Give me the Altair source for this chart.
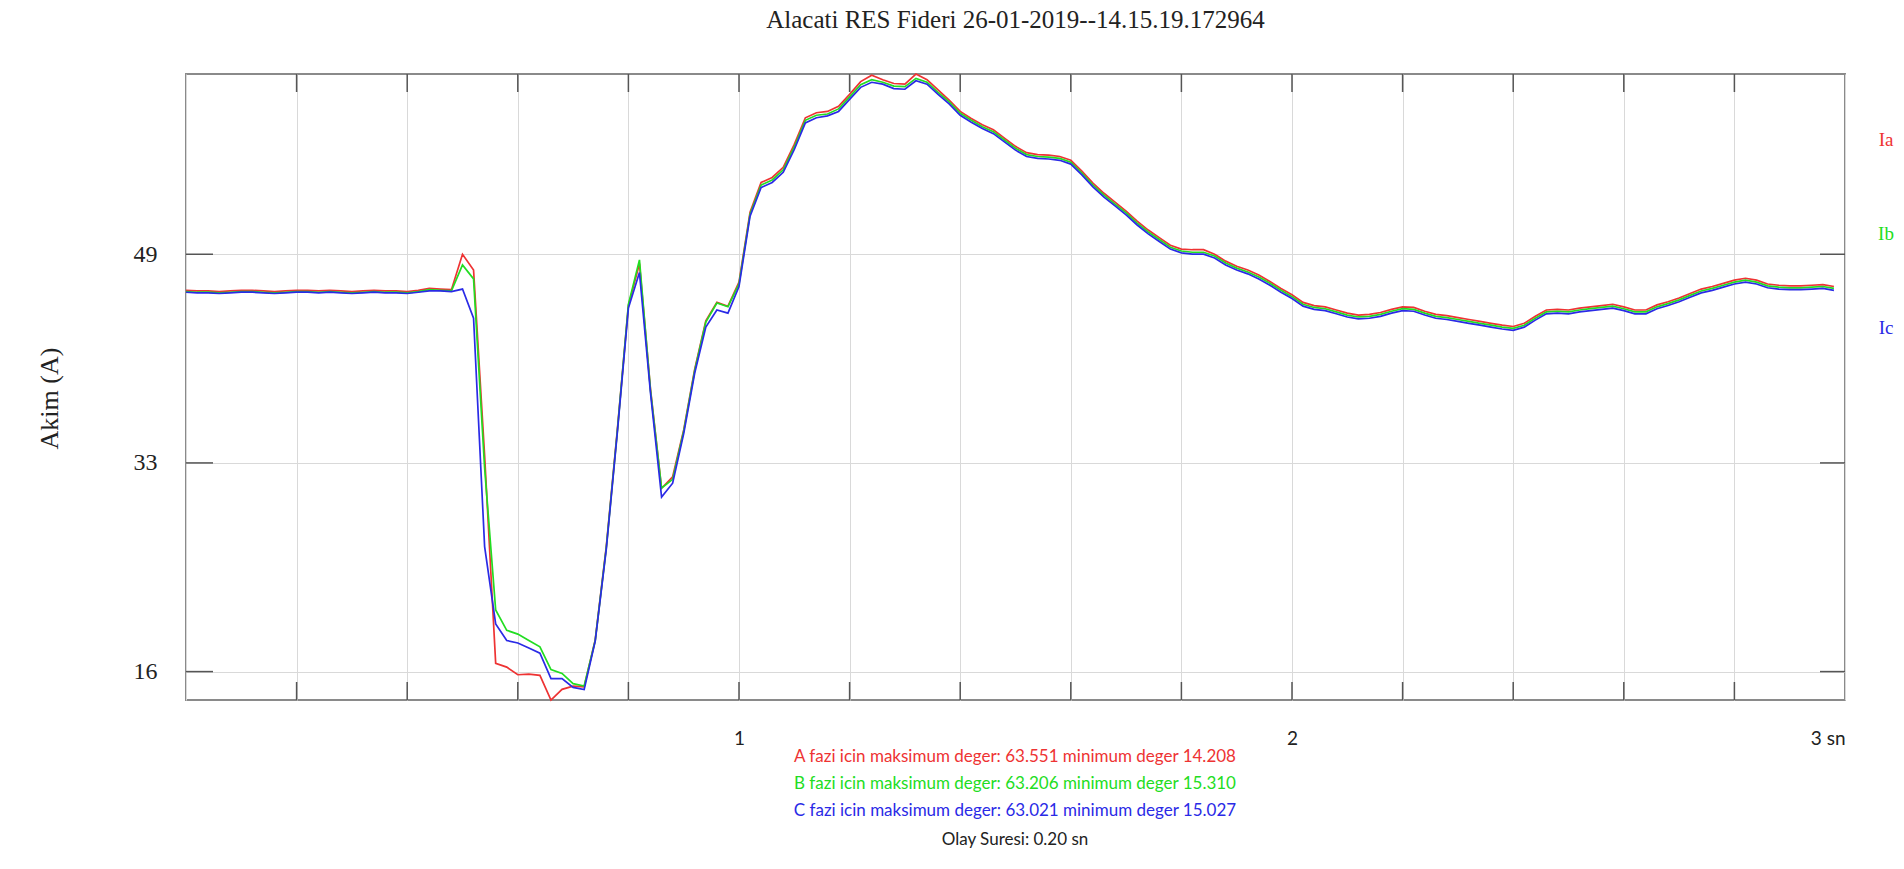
import altair as alt
import pandas as pd

# ---------------- data ----------------
TIME = [round(0.02 * i, 2) for i in range(150)]  # sample grid, 20 ms per RMS sample

IA = [46.5, 46.45, 46.45, 46.4, 46.45, 46.5, 46.5, 46.45, 46.4, 46.45, 46.5, 46.5, 46.45, 46.5, 46.45,
      46.4, 46.45, 46.5, 46.45, 46.45, 46.4, 46.5, 46.65, 46.6, 46.55,
      49.34, 48.1, 33.5, 17.1, 16.8, 16.2, 16.25, 16.15, 14.208, 15.05, 15.3, 15.25, 18.95, 26.3, 35.5,
      45.3, 48.6, 38.7, 30.9, 31.8, 35.5, 40.3, 44.1, 45.55, 45.25,
      47.15, 52.65, 55.0, 55.4, 56.2, 58.0, 60.1, 60.5, 60.6, 61.0,
      61.95, 62.95, 63.45, 63.1, 62.8, 62.75, 63.551, 63.1, 62.3, 61.5,
      60.6, 60.05, 59.55, 59.15, 58.5, 57.85, 57.35, 57.2, 57.15, 57.05,
      56.75, 55.9, 54.95, 54.15, 53.45, 52.75, 51.95, 51.25, 50.65, 50.05,
      49.75, 49.7, 49.7, 49.35, 48.8, 48.4, 48.1, 47.7, 47.2, 46.65,
      46.15, 45.55, 45.3, 45.2, 44.95, 44.7, 44.55, 44.6, 44.75, 45.0,
      45.2, 45.15, 44.85, 44.6, 44.5, 44.35, 44.2, 44.05, 43.9, 43.75,
      43.65, 43.9, 44.45, 44.95, 45.0, 44.95, 45.1, 45.2, 45.3, 45.4,
      45.2, 44.95, 44.95, 45.35, 45.6, 45.9, 46.25, 46.6, 46.8, 47.05,
      47.3, 47.45, 47.3, 47.0, 46.9, 46.85, 46.85, 46.9, 46.95, 46.8]

IB = [46.4, 46.35, 46.35, 46.3, 46.35, 46.4, 46.4, 46.35, 46.3, 46.35, 46.4, 46.4, 46.35, 46.4, 46.35,
      46.3, 46.35, 46.4, 46.35, 46.35, 46.3, 46.4, 46.55, 46.5, 46.45,
      48.5, 47.4, 32.5, 21.3, 19.7, 19.4, 18.9, 18.4, 16.6, 16.3, 15.5, 15.31, 18.9, 26.2, 35.4,
      45.4, 48.9, 38.6, 30.9, 31.6, 35.4, 40.2, 44.0, 45.5, 45.2,
      47.0, 52.5, 54.8, 55.2, 56.0, 57.8, 59.9, 60.3, 60.4, 60.8,
      61.75, 62.7, 63.1, 62.9, 62.6, 62.55, 63.206, 62.9, 62.1, 61.35,
      60.45, 59.9, 59.4, 59.0, 58.35, 57.7, 57.2, 57.05, 57.0, 56.9,
      56.6, 55.75, 54.8, 54.0, 53.3, 52.6, 51.8, 51.1, 50.5, 49.9,
      49.6, 49.5, 49.5, 49.2, 48.65, 48.25, 47.95, 47.55, 47.05, 46.5,
      46.0, 45.4, 45.15, 45.05, 44.8, 44.55, 44.4, 44.45, 44.6, 44.85,
      45.05, 45.0, 44.7, 44.45, 44.35, 44.2, 44.05, 43.9, 43.75, 43.6,
      43.5, 43.75, 44.3, 44.8, 44.85, 44.8, 44.95, 45.05, 45.15, 45.25,
      45.05, 44.8, 44.8, 45.2, 45.45, 45.75, 46.1, 46.45, 46.65, 46.9,
      47.15, 47.3, 47.15, 46.85, 46.75, 46.7, 46.7, 46.75, 46.8, 46.65]

IC = [46.35, 46.3, 46.3, 46.25, 46.3, 46.35, 46.35, 46.3, 46.25, 46.3, 46.35, 46.35, 46.3, 46.35, 46.3,
      46.25, 46.3, 46.35, 46.3, 46.3, 46.25, 46.35, 46.45, 46.45, 46.4,
      46.6, 44.3, 26.3, 20.2, 18.9, 18.7, 18.3, 17.9, 15.9, 15.9, 15.2, 15.027, 18.85, 26.1, 35.3,
      45.1, 47.9, 38.4, 30.2, 31.3, 35.2, 40.0, 43.6, 44.95, 44.7,
      46.8, 52.35, 54.6, 55.0, 55.8, 57.6, 59.7, 60.1, 60.25, 60.6,
      61.55, 62.5, 62.9, 62.75, 62.4, 62.35, 63.021, 62.75, 61.95, 61.2,
      60.3, 59.75, 59.25, 58.85, 58.2, 57.55, 57.05, 56.9, 56.85, 56.75,
      56.45, 55.6, 54.65, 53.85, 53.15, 52.45, 51.65, 50.95, 50.35, 49.75,
      49.45, 49.35, 49.35, 49.05, 48.5, 48.1, 47.8, 47.4, 46.9, 46.35,
      45.85, 45.25, 45.0, 44.9, 44.65, 44.4, 44.25, 44.3, 44.45, 44.7,
      44.9, 44.85, 44.55, 44.3, 44.2, 44.05, 43.9, 43.75, 43.6, 43.45,
      43.35, 43.6, 44.15, 44.65, 44.7, 44.65, 44.8, 44.9, 45.0, 45.1,
      44.9, 44.65, 44.65, 45.05, 45.3, 45.6, 45.95, 46.3, 46.5, 46.75,
      47.0, 47.15, 47.0, 46.7, 46.6, 46.55, 46.55, 46.6, 46.65, 46.5]

PHASES = ["Ia", "Ib", "Ic"]
PHASE_LETTERS = ["A", "B", "C"]
PHASE_COLORS = ["#ee3333", "#22dd22", "#2a2ae6"]

X_GRID = [0.0, 0.2, 0.4, 0.6, 0.8, 1.0, 1.2, 1.4, 1.6, 1.8, 2.0, 2.2, 2.4, 2.6, 2.8, 3.0]
X_INNER_TICKS = [0.2, 0.4, 0.6, 0.8, 1.0, 1.2, 1.4, 1.6, 1.8, 2.0, 2.2, 2.4, 2.6, 2.8]
Y_TICKS = [16.448, 32.896, 49.343]
EVENT_DURATION = "0.20"

TITLE = "Alacati RES Fideri 26-01-2019--14.15.19.172964"

# ---------------- layout ----------------
W, H = 1659, 626
ymin = min(IA + IB + IC)
ymax = max(IA + IB + IC)
x_scale = alt.Scale(domain=[0, 3], nice=False, zero=False)
y_scale = alt.Scale(domain=[ymin, ymax], nice=False, zero=False)

X_AXIS = alt.Axis(values=X_GRID, grid=True, gridColor="#d9d9d9", gridWidth=1,
                  domain=False, ticks=False, labelFlush=True,
                  labelExpr="datum.value == 1 ? '1' : datum.value == 2 ? '2' : datum.value == 3 ? '3 sn' : ''",
                  labelFont="Lato", labelFontSize=19, labelColor="#222222",
                  labelPadding=29, title=None)
Y_AXIS = alt.Axis(values=Y_TICKS, grid=True, gridColor="#d9d9d9", gridWidth=1,
                  domain=False, ticks=False,
                  labelExpr="format(datum.value, '.0f')",
                  labelFont="Liberation Serif", labelFontSize=24, labelColor="#222222",
                  labelPadding=29,
                  title="Akim (A)", titleFont="Liberation Serif", titleFontSize=26,
                  titleFontWeight="normal", titleColor="#222222",
                  titleX=-137, titleY=324, titleAlign="center", titleBaseline="middle",
                  titleAngle=270)

series = {"Ia": IA, "Ib": IB, "Ic": IC}

layers = []
for name, color in zip(PHASES, PHASE_COLORS):
    df = pd.DataFrame({"t": TIME, "v": series[name]})
    layers.append(
        alt.Chart(df).mark_line(color=color, strokeWidth=1.7).encode(
            x=alt.X("t:Q", scale=x_scale, axis=X_AXIS),
            y=alt.Y("v:Q", scale=y_scale, axis=Y_AXIS),
        )
    )

# inner tick marks on bottom and top frame
xt = pd.DataFrame({"t": X_INNER_TICKS})
for y0, y1 in [(H, H - 18), (0, 18)]:
    layers.append(
        alt.Chart(xt).mark_rule(color="#555555", strokeWidth=1.5).encode(
            x=alt.X("t:Q", scale=x_scale, axis=X_AXIS),
            y=alt.value(y0), y2=alt.value(y1),
        )
    )
# inner tick marks on left and right frame
yt = pd.DataFrame({"v": Y_TICKS})
for x0, x1 in [(0, 27), (W - 25, W)]:
    layers.append(
        alt.Chart(yt).mark_rule(color="#555555", strokeWidth=1.5).encode(
            y=alt.Y("v:Q", scale=y_scale, axis=Y_AXIS),
            x=alt.value(x0), x2=alt.value(x1),
        )
    )

# phase labels at right
for name, color, ypos in zip(PHASES, PHASE_COLORS, [66, 160, 254]):
    layers.append(
        alt.Chart(pd.DataFrame({"label": [name]})).mark_text(
            font="Liberation Serif", fontSize=19, color=color, align="center", baseline="middle"
        ).encode(text="label:N", x=alt.value(W + 41), y=alt.value(ypos))
    )

# statistics text below the plot
stat_lines = []
for letter, name, color in zip(PHASE_LETTERS, PHASES, PHASE_COLORS):
    vals = series[name]
    stat_lines.append((f"{letter} fazi icin maksimum deger: {max(vals):.3f} minimum deger {min(vals):.3f}", color))
stat_lines.append((f"Olay Suresi: {EVENT_DURATION} sn", "#222222"))
for (txt, color), ypos in zip(stat_lines, [683, 710, 737, 766]):
    layers.append(
        alt.Chart(pd.DataFrame({"text": [txt]})).mark_text(
            font="Lato", fontSize=17, color=color, align="center", baseline="middle"
        ).encode(text="text:N", x=alt.value(829), y=alt.value(ypos))
    )

chart = alt.layer(*layers).properties(
    width=W, height=H,
    autosize=alt.AutoSizeParams(type="none"),
    padding={"left": 186, "top": 74, "right": 59, "bottom": 169},
    title=alt.TitleParams(text=TITLE, font="Liberation Serif", fontSize=25, fontWeight="normal",
                          color="#222222", anchor="middle", frame="group", offset=26,
                          baseline="middle"),
    background="white",
).configure_view(stroke="#8a8a8a", strokeWidth=2)

chart.save("out.html", embed_options={"renderer": "svg", "actions": False})
